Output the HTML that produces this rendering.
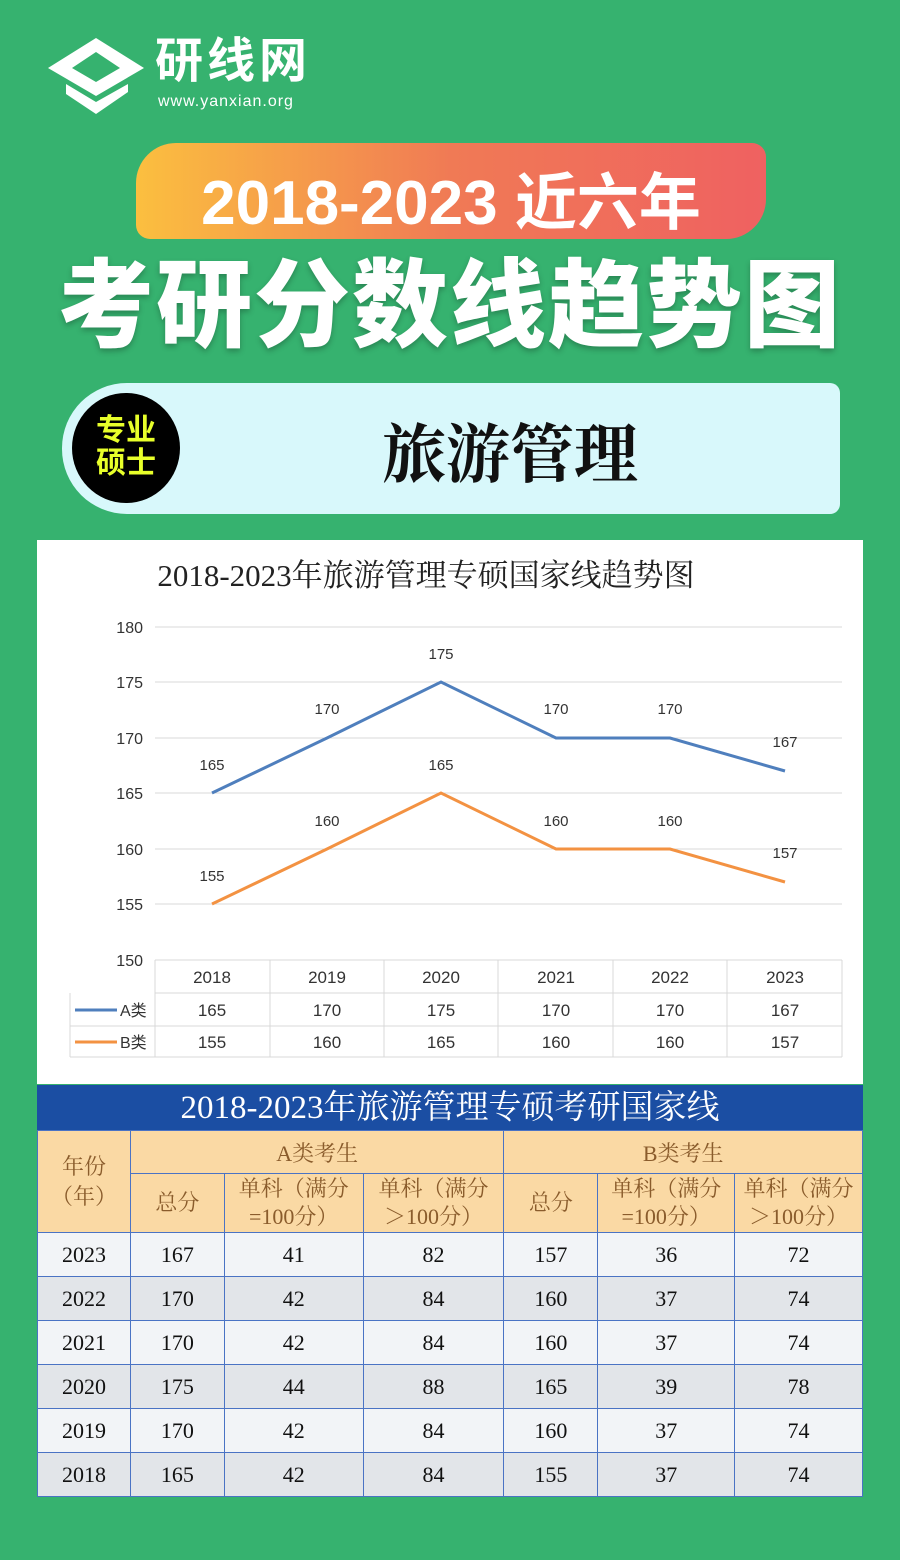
<!DOCTYPE html>
<html><head><meta charset="utf-8"><style>
body{margin:0;width:900px;height:1560px;background:#36b26f;font-family:"Liberation Sans","Noto Sans CJK SC",sans-serif;position:relative;overflow:hidden}
.abs{position:absolute}
.serif{font-family:"Liberation Serif","Noto Serif CJK SC",serif}
table{border-collapse:collapse}
td{text-align:center;padding:0}
tbody td{border:1px solid #4a73c4}
</style></head><body>
<svg class="abs" style="left:48px;top:38px" width="100" height="80" viewBox="0 0 100 80">
<polygon points="48,0 96,30 48,58 0,30" fill="#fff"/>
<polygon points="48,14 72,30 48,44 24,30" fill="#36b26f"/>
<polygon points="18,46 48,64 80,46 80,54 48,76 18,56" fill="#fff"/>
</svg>
<div class="abs" style="left:155px;top:32px;color:#fff;font-size:48px;font-weight:bold;letter-spacing:4px;line-height:60px">研线网</div>
<div class="abs" style="left:158px;top:93px;color:#fff;font-size:16px;letter-spacing:1px">www.yanxian.org</div>
<div class="abs" style="left:136px;top:143px;width:630px;height:96px;border-radius:40px 14px 40px 14px;background:linear-gradient(90deg,#fbbf3f,#f07a55,#ef6161)"></div>
<div class="abs" style="left:136px;top:152px;width:630px;text-align:center;color:#fff;font-size:62px;font-weight:bold">2018-2023 近六年</div>
<div class="abs" style="left:0;top:228px;width:900px;text-align:center;color:#fff;font-size:96px;font-weight:900;letter-spacing:2px;text-shadow:0 3px 6px rgba(0,0,0,.25)">考研分数线趋势图</div>
<div class="abs" style="left:62px;top:383px;width:778px;height:131px;background:#d8f8fb;border-radius:65px 10px 10px 65px"></div>
<div class="abs" style="left:72px;top:393px;width:108px;height:110px;border-radius:50%;background:#000"></div>
<div class="abs" style="left:72px;top:414px;width:108px;text-align:center;color:#e8ff2a;font-size:30px;font-weight:bold;line-height:33px">专业<br>硕士</div>
<div class="abs serif" style="left:180px;top:404px;width:660px;text-align:center;font-size:64px;font-weight:bold;color:#111">旅游管理</div>
<div class="abs" style="left:37px;top:540px;width:826px;height:544px;background:#fff"></div>
<svg class="abs" style="left:0;top:0" width="900" height="1100" font-family="Liberation Sans, Noto Sans CJK SC, sans-serif">
<text x="426" y="586" text-anchor="middle" font-family="Liberation Serif, Noto Serif CJK SC, serif" font-size="31" fill="#222">2018-2023年旅游管理专硕国家线趋势图</text>
<g stroke="#d9d9d9" stroke-width="1">
<line x1="155" y1="627" x2="842" y2="627"/><line x1="155" y1="682" x2="842" y2="682"/><line x1="155" y1="738" x2="842" y2="738"/><line x1="155" y1="793" x2="842" y2="793"/><line x1="155" y1="849" x2="842" y2="849"/><line x1="155" y1="904" x2="842" y2="904"/>
<line x1="155" y1="960" x2="842" y2="960"/><line x1="155" y1="993" x2="842" y2="993"/><line x1="70" y1="1026" x2="842" y2="1026"/><line x1="70" y1="1057" x2="842" y2="1057"/>
<line x1="70" y1="993" x2="70" y2="1057"/><line x1="155" y1="960" x2="155" y2="1057"/><line x1="270" y1="960" x2="270" y2="1057"/><line x1="384" y1="960" x2="384" y2="1057"/><line x1="498" y1="960" x2="498" y2="1057"/><line x1="613" y1="960" x2="613" y2="1057"/><line x1="727" y1="960" x2="727" y2="1057"/><line x1="842" y1="960" x2="842" y2="1057"/>
</g>
<g font-size="16" fill="#333" text-anchor="end">
<text x="143" y="633">180</text><text x="143" y="688">175</text><text x="143" y="744">170</text><text x="143" y="799">165</text><text x="143" y="855">160</text><text x="143" y="910">155</text><text x="143" y="966">150</text></g>
<polyline points="212,793 327,738 441,682 556,738 670,738 785,771" fill="none" stroke="#4f7fbd" stroke-width="3"/>
<polyline points="212,904 327,849 441,793 556,849 670,849 785,882" fill="none" stroke="#f39242" stroke-width="3"/>
<g font-size="15" fill="#333" text-anchor="middle">
<text x="212" y="770">165</text><text x="327" y="714">170</text><text x="441" y="659">175</text><text x="556" y="714">170</text><text x="670" y="714">170</text><text x="785" y="747">167</text>
<text x="212" y="881">155</text><text x="327" y="826">160</text><text x="441" y="770">165</text><text x="556" y="826">160</text><text x="670" y="826">160</text><text x="785" y="858">157</text></g>
<g font-size="17" fill="#333" text-anchor="middle">
<text x="212" y="983">2018</text><text x="327" y="983">2019</text><text x="441" y="983">2020</text><text x="556" y="983">2021</text><text x="670" y="983">2022</text><text x="785" y="983">2023</text>
<text x="212" y="1016">165</text><text x="327" y="1016">170</text><text x="441" y="1016">175</text><text x="556" y="1016">170</text><text x="670" y="1016">170</text><text x="785" y="1016">167</text>
<text x="212" y="1048">155</text><text x="327" y="1048">160</text><text x="441" y="1048">165</text><text x="556" y="1048">160</text><text x="670" y="1048">160</text><text x="785" y="1048">157</text></g>
<line x1="75" y1="1010" x2="117" y2="1010" stroke="#4f7fbd" stroke-width="3"/>
<line x1="75" y1="1042" x2="117" y2="1042" stroke="#f39242" stroke-width="3"/>
<text x="120" y="1016" font-size="16" fill="#333">A类</text><text x="120" y="1048" font-size="16" fill="#333">B类</text>
</svg>
<div class="abs serif" style="left:37px;top:1085px;width:826px;height:45px;background:#1b4ea3;color:#fff;font-size:33px;text-align:center;line-height:47px">2018-2023年旅游管理专硕考研国家线</div>
<table class="abs serif" style="left:37px;top:1130px;width:826px;font-size:22px;color:#111">
<colgroup><col style="width:93px"><col style="width:94px"><col style="width:139px"><col style="width:141px"><col style="width:94px"><col style="width:137px"><col style="width:128px"></colgroup>
<tr style="height:43px;background:#fad9a4;color:#8a5c2c"><td rowspan="2" style="border-right:1px solid #4a73c4;line-height:30px">年份<br>（年）</td><td colspan="3" style="border-right:1px solid #4a73c4">A类考生</td><td colspan="3">B类考生</td></tr>
<tr style="height:59px;background:#fad9a4;color:#8a5c2c;line-height:28px"><td style="border:1px solid #4a73c4;border-bottom:none">总分</td><td style="border:1px solid #4a73c4;border-bottom:none">单科（满分<br>=100分）</td><td style="border:1px solid #4a73c4;border-bottom:none">单科（满分<br>＞100分）</td><td style="border:1px solid #4a73c4;border-bottom:none">总分</td><td style="border:1px solid #4a73c4;border-bottom:none">单科（满分<br>=100分）</td><td style="border-top:1px solid #4a73c4">单科（满分<br>＞100分）</td></tr>
<tbody style="font-size:22px">
<tr style="height:44px;background:#f2f4f7"><td>2023</td><td>167</td><td>41</td><td>82</td><td>157</td><td>36</td><td>72</td></tr>
<tr style="height:44px;background:#e2e5e9"><td>2022</td><td>170</td><td>42</td><td>84</td><td>160</td><td>37</td><td>74</td></tr>
<tr style="height:44px;background:#f2f4f7"><td>2021</td><td>170</td><td>42</td><td>84</td><td>160</td><td>37</td><td>74</td></tr>
<tr style="height:44px;background:#e2e5e9"><td>2020</td><td>175</td><td>44</td><td>88</td><td>165</td><td>39</td><td>78</td></tr>
<tr style="height:44px;background:#f2f4f7"><td>2019</td><td>170</td><td>42</td><td>84</td><td>160</td><td>37</td><td>74</td></tr>
<tr style="height:44px;background:#e2e5e9"><td>2018</td><td>165</td><td>42</td><td>84</td><td>155</td><td>37</td><td>74</td></tr>
</tbody></table>
</body></html>
